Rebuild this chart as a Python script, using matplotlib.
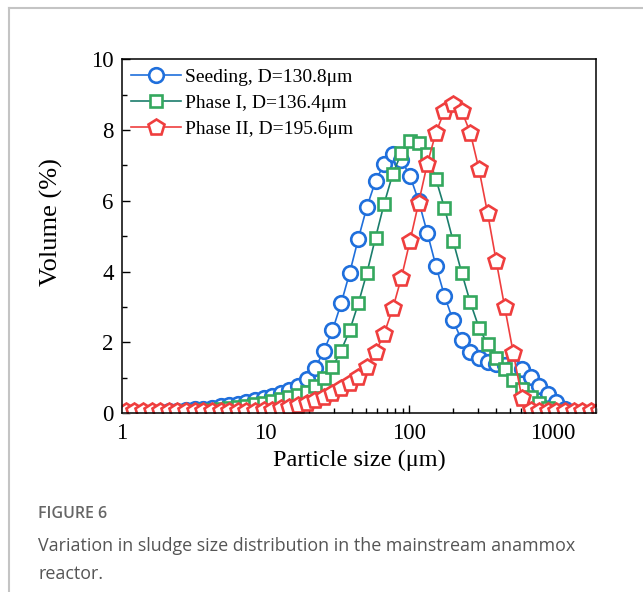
import numpy as np
import matplotlib
matplotlib.use("Agg")
import matplotlib.pyplot as plt
from matplotlib.lines import Line2D
from matplotlib.ticker import FixedLocator, NullFormatter

# particle size bins (um), log spaced
size_um = [1.059, 1.216, 1.396, 1.603, 1.841, 2.113, 2.427, 2.786, 3.199, 3.673,
           4.217, 4.842, 5.559, 6.383, 7.328, 8.414, 9.661, 11.09, 12.74, 14.62,
           16.79, 19.28, 22.13, 25.41, 29.17, 33.50, 38.46, 44.16, 50.70, 58.21,
           66.83, 76.74, 88.10, 101.2, 116.1, 133.4, 153.1, 175.8, 201.8, 231.7,
           266.1, 305.5, 350.8, 402.7, 462.4, 530.9, 609.5, 699.8, 803.5, 922.6,
           1059, 1216, 1396, 1603, 1841, 2113]

# volume (%)
seeding = [0.0, 0.01, 0.02, 0.03, 0.04, 0.06, 0.07, 0.09, 0.11, 0.13,
           0.16, 0.19, 0.23, 0.27, 0.31, 0.36, 0.42, 0.48, 0.56, 0.65,
           0.77, 0.96, 1.27, 1.77, 2.34, 3.10, 3.97, 4.93, 5.83, 6.56,
           7.04, 7.32, 7.15, 6.70, 6.00, 5.10, 4.17, 3.32, 2.62, 2.06,
           1.72, 1.55, 1.44, 1.40, 1.36, 1.30, 1.25, 1.02, 0.76, 0.54,
           0.31, 0.12, 0.02, 0.0, 0.0, 0.0]
phase1 = [0.0, 0.0, 0.01, 0.01, 0.02, 0.03, 0.04, 0.05, 0.06, 0.08,
          0.10, 0.12, 0.15, 0.18, 0.21, 0.25, 0.29, 0.34, 0.39, 0.45,
          0.51, 0.60, 0.76, 0.99, 1.30, 1.77, 2.34, 3.10, 3.97, 4.96,
          5.92, 6.76, 7.35, 7.69, 7.63, 7.32, 6.62, 5.80, 4.87, 3.97,
          3.13, 2.42, 1.95, 1.55, 1.25, 0.93, 0.68, 0.47, 0.30, 0.15,
          0.06, 0.02, 0.0, 0.0, 0.0, 0.0]
phase2 = [0.05, 0.05, 0.05, 0.05, 0.05, 0.05, 0.05, 0.05, 0.05, 0.05,
          0.05, 0.05, 0.05, 0.05, 0.06, 0.07, 0.08, 0.10, 0.14, 0.17,
          0.23, 0.28, 0.37, 0.45, 0.56, 0.70, 0.85, 1.01, 1.30, 1.72,
          2.25, 2.96, 3.83, 4.87, 5.94, 7.04, 7.92, 8.54, 8.73, 8.54,
          7.92, 6.90, 5.66, 4.31, 2.99, 1.69, 0.42, 0.08, 0.05, 0.05,
          0.05, 0.05, 0.05, 0.05, 0.05, 0.05]

labels = ["Seeding, D=130.8\u03bcm", "Phase I, D=136.4\u03bcm", "Phase II, D=195.6\u03bcm"]
xticks = [1, 10, 100, 1000]
xticklabels = ["1", "10", "100", "1000"]
yticks = [0, 2, 4, 6, 8, 10]

plt.rcParams['font.family'] = ['Liberation Serif', 'DejaVu Serif']

fig = plt.figure(figsize=(6.43, 5.92), dpi=100)
ax = fig.add_axes([0.19, 0.302, 0.737, 0.598])

ax.plot(size_um, seeding, color='#1f6fdc', lw=1.2, marker='o', ms=10.5,
        mec='#1f6fdc', mfc='white', mew=1.9, label=labels[0])
ax.plot(size_um, phase1, color='#1b7d6c', lw=1.2, marker='s', ms=9.3,
        mec='#34a85e', mfc='white', mew=1.9, label=labels[1])
ax.plot(size_um, phase2, color='#ef3e3e', lw=1.2, marker='p', ms=12,
        mec='#ef3e3e', mfc='white', mew=1.9, label=labels[2])

ax.set_xscale('log')
ax.set_xlim(1, 2000)
ax.set_ylim(0, 10)
ax.xaxis.set_major_locator(FixedLocator(xticks))
ax.set_xticklabels(xticklabels)
ax.xaxis.set_minor_locator(FixedLocator([m * 10 ** d for d in range(0, 4) for m in range(2, 10)]))
ax.xaxis.set_minor_formatter(NullFormatter())
ax.set_yticks(yticks)
ax.set_yticks([1, 3, 5, 7, 9], minor=True)

ax.tick_params(which='both', direction='in', labelsize=16.5, width=1.0)
ax.tick_params(which='major', length=6)
ax.tick_params(axis='x', which='major', pad=7)
ax.tick_params(axis='y', which='major', pad=6)
ax.tick_params(which='minor', length=3.5)
for s in ax.spines.values():
    s.set_linewidth(1.1)

ax.set_xlabel('Particle size (\u03bcm)', fontsize=17.5, labelpad=4)
ax.set_ylabel('Volume (%)', fontsize=19)
ax.yaxis.set_label_coords(-0.125, 0.54)

ax.legend(loc='upper left', frameon=False, fontsize=14, handlelength=2.6,
          numpoints=1, borderaxespad=0.25, borderpad=0.2, labelspacing=0.45,
          handletextpad=0.2)

# frame and caption of the figure page
fig.add_artist(Line2D([9 / 643, 9 / 643], [0, 1 - 8 / 592], color='#c4c4c4', lw=1.5))
fig.add_artist(Line2D([9 / 643, 1], [1 - 8 / 592, 1 - 8 / 592], color='#c4c4c4', lw=1.5))
fig.text(38 / 643, 1 - 514 / 592, 'FIGURE 6', family='Open Sans', fontsize=11.5,
         fontweight='semibold', color='#666666', va='center', ha='left')
fig.text(38 / 643, 1 - 546 / 592,
         'Variation in sludge size distribution in the mainstream anammox',
         family='Open Sans', fontsize=12.9, color='#555555', va='center', ha='left')
fig.text(38 / 643, 1 - 574 / 592, 'reactor.', family='Open Sans', fontsize=12.9,
         color='#555555', va='center', ha='left')

fig.savefig('out.png', dpi=100)
